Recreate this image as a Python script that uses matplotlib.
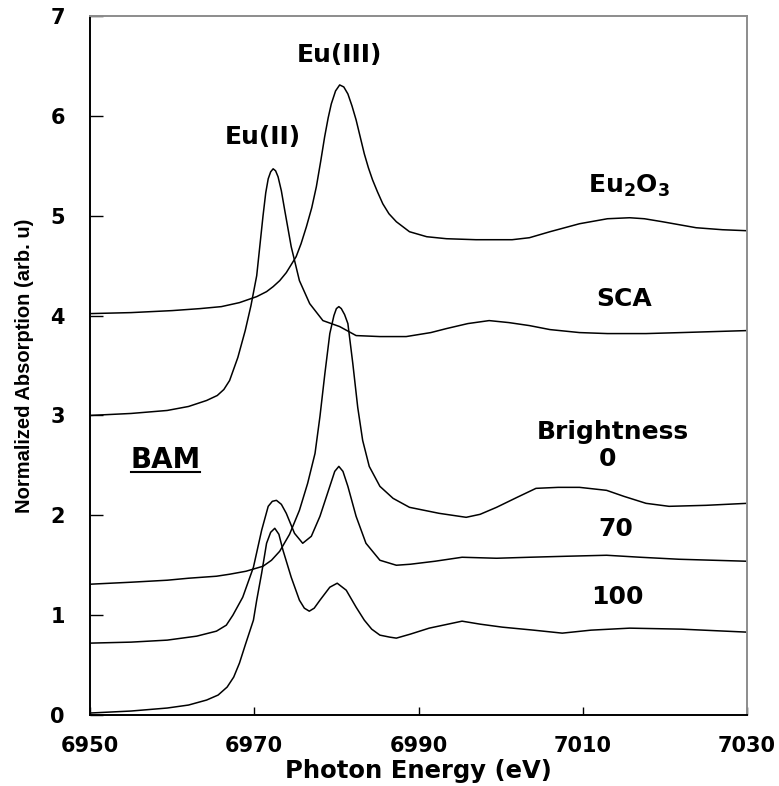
import matplotlib
matplotlib.use("Agg")
import matplotlib.pyplot as plt
from matplotlib.lines import Line2D

plt.rcParams['font.family'] = ['DejaVu Sans']
plt.rcParams['mathtext.fontset'] = 'custom'
plt.rcParams['mathtext.rm'] = 'DejaVu Sans:bold'
plt.rcParams['mathtext.bf'] = 'DejaVu Sans:bold'
plt.rcParams['mathtext.it'] = 'DejaVu Sans:bold'

# ---- data (photon energy in eV, normalized absorption) ----
eu2o3_x = [6950, 6955, 6960, 6963.4, 6966.0, 6968.2, 6970.3, 6971.5, 6972.3, 6973.1, 6973.9,
           6975.1, 6975.7, 6976.35, 6977.0, 6977.56, 6978.1, 6978.57, 6979.0, 6979.38, 6979.9,
           6980.4, 6980.9, 6981.4, 6981.9, 6982.4, 6982.9, 6983.4, 6983.9, 6984.4, 6985.0,
           6985.65, 6986.4, 6987.3, 6988.9, 6991, 6993.4, 6997, 7001.4, 7003.5, 7006,
           7009.6, 7013, 7015.7, 7017.5, 7019.7, 7023.8, 7027, 7030]
eu2o3_y = [4.02, 4.03, 4.05, 4.07, 4.09, 4.13, 4.19, 4.24, 4.29, 4.35, 4.43,
           4.59, 4.72, 4.89, 5.08, 5.29, 5.55, 5.79, 5.98, 6.12, 6.25,
           6.31, 6.29, 6.22, 6.10, 5.96, 5.79, 5.62, 5.48, 5.36, 5.24,
           5.12, 5.02, 4.94, 4.84, 4.79, 4.77, 4.76, 4.76, 4.78, 4.84,
           4.92, 4.97, 4.98, 4.97, 4.94, 4.88, 4.86, 4.85]

sca_x = [6950, 6955, 6959.4, 6962, 6964.2, 6965.5, 6966.3, 6967.0, 6968.0, 6968.9, 6969.6,
         6970.3, 6971.07, 6971.4, 6971.7, 6972.0, 6972.3, 6972.6, 6972.9, 6973.3, 6973.7,
         6974.5, 6975.5, 6976.75, 6978.36, 6980.4, 6982.4, 6985.3, 6988.5, 6991.5, 6993.4,
         6996, 6998.6, 7001, 7003.5, 7006, 7009.6, 7013, 7017.7, 7022, 7026, 7030]
sca_y = [3.00, 3.02, 3.05, 3.09, 3.15, 3.20, 3.26, 3.35, 3.58, 3.85, 4.10,
         4.40, 5.00, 5.23, 5.37, 5.44, 5.47, 5.45, 5.39, 5.25, 5.06,
         4.69, 4.35, 4.12, 3.95, 3.89, 3.80, 3.79, 3.79, 3.83, 3.87,
         3.92, 3.95, 3.93, 3.90, 3.86, 3.83, 3.82, 3.82, 3.83, 3.84, 3.85]

b0_x = [6950, 6955, 6959.4, 6962, 6965.4, 6967.0, 6969.0, 6971.07, 6972.1, 6973.1, 6974.3,
        6975.5, 6976.5, 6977.4, 6978.0, 6978.6, 6979.2, 6979.7, 6980.0, 6980.3, 6980.6,
        6981.0, 6981.4, 6982.0, 6982.6, 6983.2, 6984.0, 6985.3, 6986.9, 6988.9, 6992.5,
        6995.8, 6997.5, 6999.5, 7002, 7004.3, 7007, 7009.6, 7012.9, 7015, 7017.7,
        7020.5, 7025, 7030]
b0_y = [1.31, 1.33, 1.35, 1.37, 1.39, 1.41, 1.44, 1.49, 1.55, 1.64, 1.81,
        2.05, 2.32, 2.62, 2.99, 3.42, 3.82, 4.00, 4.07, 4.09, 4.07,
        4.01, 3.92, 3.52, 3.08, 2.75, 2.49, 2.29, 2.17, 2.08, 2.02,
        1.98, 2.01, 2.08, 2.18, 2.27, 2.28, 2.28, 2.25, 2.19, 2.12,
        2.09, 2.10, 2.12]

b70_x = [6950, 6955, 6959.4, 6963, 6965.4, 6966.6, 6967.4, 6968.6, 6969.9, 6970.9, 6971.7,
         6972.2, 6972.7, 6973.3, 6973.9, 6974.9, 6975.9, 6976.95, 6978.0, 6979.2, 6979.8,
         6980.3, 6980.8, 6981.4, 6982.4, 6983.6, 6985.3, 6987.3, 6989, 6992, 6995.3,
         6999.5, 7003.5, 7008, 7012.9, 7017, 7021.7, 7030]
b70_y = [0.72, 0.73, 0.75, 0.79, 0.84, 0.90, 1.00, 1.18, 1.48, 1.85, 2.09,
         2.14, 2.15, 2.11, 2.02, 1.82, 1.72, 1.79, 1.99, 2.29, 2.44,
         2.49, 2.44, 2.29, 1.99, 1.72, 1.55, 1.50, 1.51, 1.54, 1.58,
         1.57, 1.58, 1.59, 1.60, 1.58, 1.56, 1.54]

b100_x = [6950, 6955, 6959.4, 6962, 6964.2, 6965.6, 6966.7, 6967.5, 6968.2, 6968.9, 6969.9,
          6970.3, 6970.9, 6971.5, 6972.0, 6972.5, 6973.0, 6973.5, 6974.5, 6975.5, 6976.1,
          6976.7, 6977.3, 6978.0, 6979.2, 6980.1, 6981.2, 6982.4, 6983.4, 6984.3, 6985.3,
          6986.5, 6987.3, 6989, 6991.3, 6995.3, 6997.5, 7000.2, 7004, 7007.5, 7011,
          7015.7, 7022, 7030]
b100_y = [0.02, 0.04, 0.07, 0.10, 0.15, 0.20, 0.28, 0.38, 0.52, 0.70, 0.95,
          1.15, 1.42, 1.72, 1.83, 1.87, 1.81, 1.65, 1.38, 1.15, 1.07,
          1.04, 1.07, 1.15, 1.28, 1.32, 1.25, 1.08, 0.95, 0.86, 0.80,
          0.78, 0.77, 0.81, 0.87, 0.94, 0.91, 0.88, 0.85, 0.82, 0.85,
          0.87, 0.86, 0.83]

x_ticks = [6950, 6970, 6990, 7010, 7030]
y_ticks = [0, 1, 2, 3, 4, 5, 6, 7]

fig = plt.figure(figsize=(7.79, 7.86), dpi=100)
ax = fig.add_axes([0.1155, 0.0903, 0.8435, 0.8893])

for xs, ys in [(eu2o3_x, eu2o3_y), (sca_x, sca_y), (b0_x, b0_y), (b70_x, b70_y), (b100_x, b100_y)]:
    ax.plot(xs, ys, color='black', lw=1.1, solid_joinstyle='round')

ax.set_xlim(6950, 7030)
ax.set_ylim(0, 7)
ax.set_xticks(x_ticks)
ax.set_yticks(y_ticks)
ax.tick_params(axis='x', direction='in', length=6, width=1, pad=15, labelsize=15)
ax.tick_params(axis='y', direction='in', length=9, width=1, pad=18, labelsize=15)
for lab in ax.get_xticklabels() + ax.get_yticklabels():
    lab.set_fontweight('bold')

for s in ['left', 'bottom']:
    ax.spines[s].set_color('black')
    ax.spines[s].set_linewidth(1.4)
for s in ['top', 'right']:
    ax.spines[s].set_color('#8c8c8c')
    ax.spines[s].set_linewidth(1.4)

ax.set_xlabel('Photon Energy (eV)', fontsize=17.5, fontweight='bold', labelpad=2)
ax.set_ylabel('Normalized Absorption (arb. u)', fontsize=14.5, fontweight='bold',
              family=['Liberation Sans Narrow', 'Liberation Sans'], labelpad=12)

lbl = dict(fontsize=18, fontweight='bold', ha='center', va='center')
ax.text(6980.4, 6.61, 'Eu(III)', **lbl)
ax.text(6971.0, 5.79, 'Eu(II)', **lbl)
ax.text(7015.7, 5.30, r'Eu$_2$O$_3$', **lbl)
ax.text(7015.0, 4.17, 'SCA', **lbl)
ax.text(7013.6, 2.83, 'Brightness', **lbl)
ax.text(7013.0, 2.56, '0', **lbl)
ax.text(7014.0, 1.86, '70', **lbl)
ax.text(7014.2, 1.18, '100', **lbl)
bam = ax.text(6959.2, 2.55, 'BAM', fontsize=20, fontweight='bold', ha='center', va='center')

# underline under BAM
fig.canvas.draw()
bb = bam.get_window_extent()
fig.add_artist(Line2D([bb.x0 + 1, bb.x1 - 1], [bb.y0 + 2, bb.y0 + 2],
                      transform=None, color='black', lw=1.5))

fig.savefig('out.png', dpi=100)
